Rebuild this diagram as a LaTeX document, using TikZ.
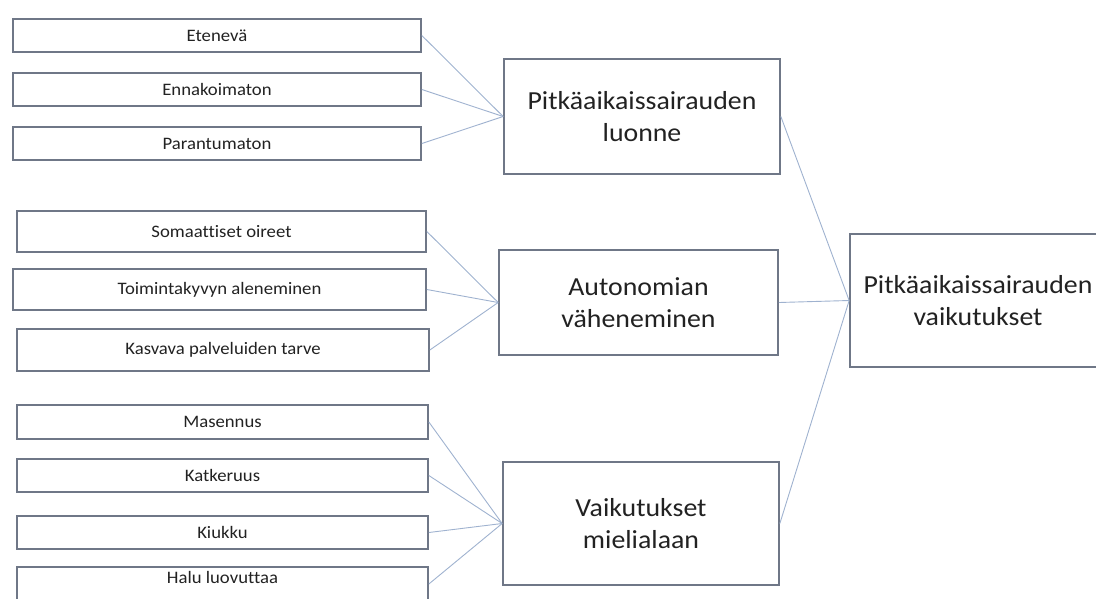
\documentclass[tikz,border=0pt]{standalone}
\usepackage{fontspec}
\setmainfont{Carlito}[FakeStretch=1.07,Ligatures=NoCommon]
\definecolor{boxline}{HTML}{6F7787}
\definecolor{linkline}{HTML}{9FB2CF}
\definecolor{inktext}{HTML}{222222}
\begin{document}
\begin{tikzpicture}[x=1pt,y=-1pt,
  itembox/.style={draw=boxline,line width=1.7pt,fill=white,rectangle,inner sep=0pt,
    text=inktext,font=\fontsize{17.5}{20}\selectfont,align=center},
  themebox/.style={draw=boxline,line width=1.7pt,fill=white,rectangle,inner sep=0pt,
    text=inktext,font=\fontsize{26}{32}\selectfont,align=center},
  link/.style={draw=linkline,line width=0.9pt}]
\useasboundingbox (0,0) rectangle (1096,598);

% causes on the left
\node[itembox,minimum width=408pt,minimum height=33pt] (e1) at (217,35.5) {Etenevä};
\node[itembox,minimum width=408pt,minimum height=33pt] (e2) at (217,89.5) {Ennakoimaton};
\node[itembox,minimum width=408pt,minimum height=33pt] (e3) at (217,143.5) {Parantumaton};

\node[itembox,minimum width=409pt,minimum height=41pt] (a1) at (221.5,231.5) {Somaattiset oireet};
\node[itembox,minimum width=413pt,minimum height=41pt] (a2) at (219.5,289.5) {Toimintakyvyn aleneminen};
\node[itembox,minimum width=412pt,minimum height=42pt] (a3) at (223,350) {Kasvava palveluiden tarve};

\node[itembox,minimum width=411pt,minimum height=34pt] (v1) at (222.5,422) {Masennus};
\node[itembox,minimum width=411pt,minimum height=33pt] (v2) at (222.5,475.5) {Katkeruus};
\node[itembox,minimum width=411pt,minimum height=33pt] (v3) at (222.5,532.5) {Kiukku};
% the last box runs past the lower edge; its text sits a little high
\node[itembox,minimum width=411pt,minimum height=34pt,text height=12pt,text depth=14pt]
  (v4) at (222.5,584) {Halu luovuttaa};

% themes in the middle
\node[themebox,minimum width=276pt,minimum height=115pt] (m1) at (642,116.5) {Pitkäaikaissairauden\\luonne};
\node[themebox,minimum width=279pt,minimum height=105pt] (m2) at (638.5,302.5) {Autonomian\\väheneminen};
\node[themebox,minimum width=276pt,minimum height=123pt] (m3) at (641,523.5) {Vaikutukset\\mielialaan};

% overall result on the right
\node[themebox,minimum width=256pt,minimum height=133pt] (r) at (978,300.5) {Pitkäaikaissairauden\\vaikutukset};

% connectors
\foreach \s in {e1,e2,e3} \draw[link] (\s.east) -- (m1.west);
\foreach \s in {a1,a2,a3} \draw[link] (\s.east) -- (m2.west);
\foreach \s in {v1,v2,v3,v4} \draw[link] (\s.east) -- (m3.west);
\foreach \s in {m1,m2,m3} \draw[link] (\s.east) -- (r.west);
\end{tikzpicture}
\end{document}
